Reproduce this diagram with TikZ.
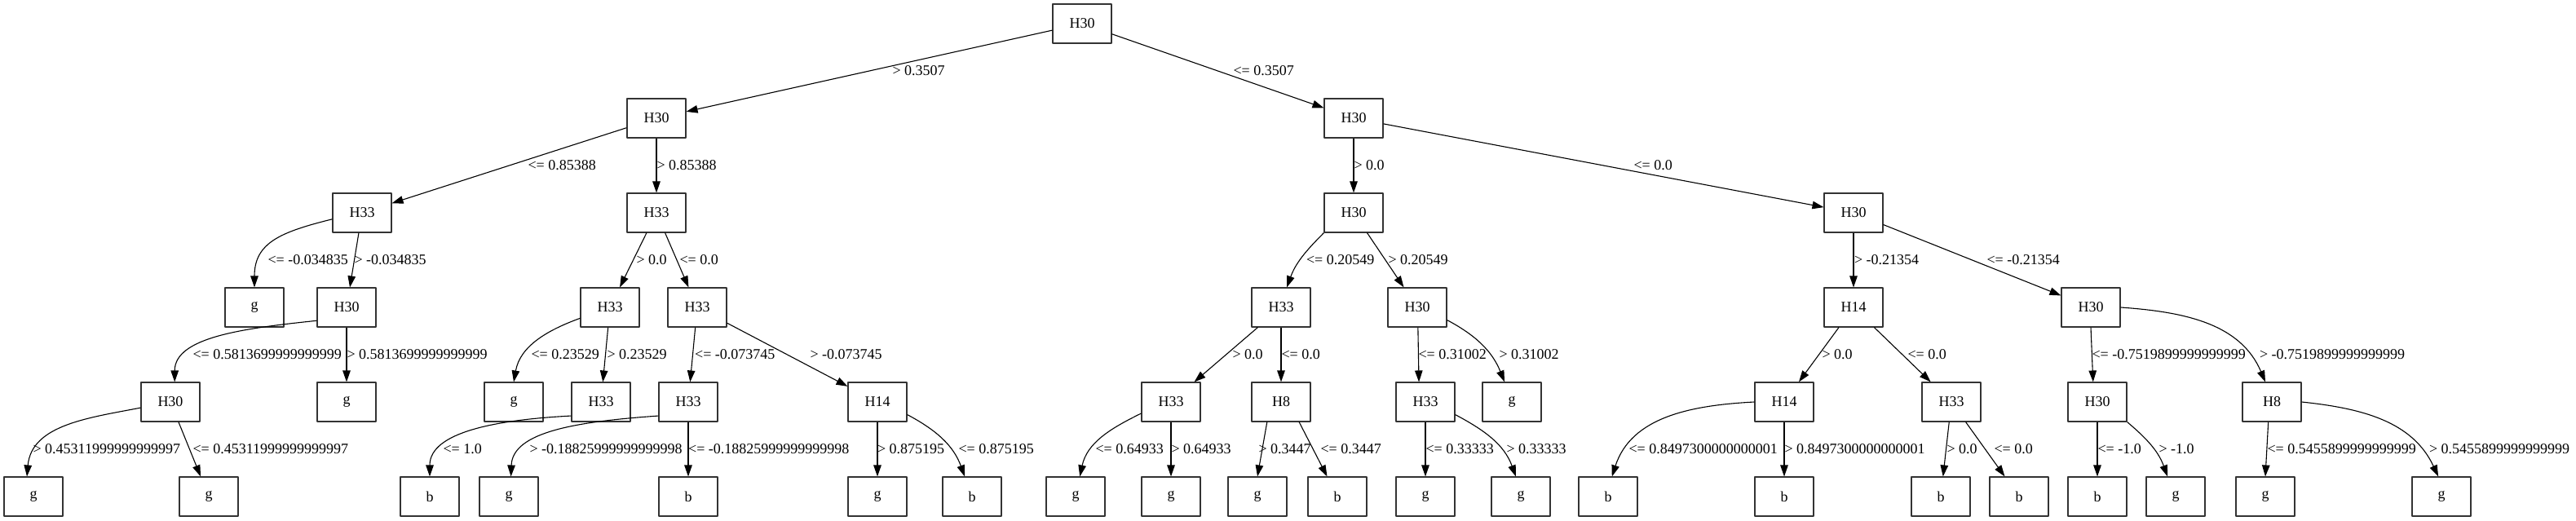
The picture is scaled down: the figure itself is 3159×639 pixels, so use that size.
\documentclass[tikz,border=0pt]{standalone}
\usepackage{fontspec}
\setmainfont{Liberation Serif}
\usetikzlibrary{arrows.meta}
\begin{document}
\begin{tikzpicture}
[x=1pt, y=1pt, font=\fontsize{18}{22}\selectfont, line join=round,
 >={Triangle[length=14pt,width=9.5pt]},
 box/.style={draw=black!80, line width=1.1pt, minimum width=72pt, minimum height=48pt, inner sep=0pt},
 lbl/.style={anchor=west, inner sep=0pt},
 link/.style={->, line width=1.1pt}]
\useasboundingbox (0,0) rectangle (3159,-639);
% nodes: name/x/y/text
\foreach \n/\x/\y/\t in {r/1327/29/H30,
  a/805/145/H30, b/1660/145/H30,
  aa/444/261/H33, ab/805/261/H33, ba/1660/261/H30, bb/2273/261/H30,
  aaa/312/377/g, aab/425/377/H30, aba/748/377/H33, abb/855/377/H33,
  baa/1571/377/H33, bab/1738/377/H30, bba/2273/377/H14, bbb/2564/377/H30,
  aaba/209/493/H30, aabb/425/493/g, abaa/630/493/g, abab/737/493/H33,
  abba/844/493/H33, abbb/1076/493/H14, baaa/1436/493/H33, baab/1571/493/H8,
  baba/1748/493/H33, babb/1854/493/g, bbaa/2188/493/H14, bbab/2393/493/H33,
  bbba/2572/493/H30, bbbb/2786/493/H8,
  aabaa/41/609/g, aabab/256/609/g, ababa/527/609/b, abbaa/624/609/g,
  abbab/844/609/b, abbba/1076/609/g, abbbb/1192/609/b, baaaa/1319/609/g,
  baaab/1436/609/g, baaba/1542/609/g, baabb/1640/609/b, babaa/1748/609/g,
  babab/1865/609/g, bbaaa/1972/609/b, bbaab/2188/609/b, bbaba/2380/609/b,
  bbabb/2476/609/b, bbbaa/2572/609/b, bbbab/2668/609/g, bbbba/2778/609/g,
  bbbbb/2994/609/g}
  \node[box] (\n) at (\x,-\y) {\t};
% straight connectors: from/to/label x/label y/label
\foreach \s/\e/\x/\y/\l in {r/a/1094/86.5/{> 0.3507}, r/b/1512/86.5/{<= 0.3507},
  a/aa/647/203/{<= 0.85388}, a/ab/805/203/{> 0.85388},
  b/ba/1660/203/{> 0.0}, b/bb/2003/203/{<= 0.0},
  aa/aab/434/319/{> -0.034835}, ab/aba/780/319/{> 0.0}, ab/abb/833/319/{<= 0.0},
  ba/bab/1702/319/{> 0.20549}, bb/bba/2273.5/319/{> -0.21354}, bb/bbb/2436/319/{<= -0.21354},
  aab/aabb/425/435/{> 0.5813699999999999}, aba/abab/744/435/{> 0.23529},
  abb/abba/851.6/435/{<= -0.073745}, abb/abbb/993/435/{> -0.073745},
  baa/baaa/1511/435/{> 0.0}, baa/baab/1571/435/{<= 0.0},
  bab.272/baba.108/1739/435/{<= 0.31002},
  bba/bbaa/2234/435/{> 0.0}, bba/bbab/2339/435/{<= 0.0},
  bbb.south/bbba.102/2565/435/{<= -0.7519899999999999},
  aaba/aabab/236/551/{<= 0.45311999999999997},
  abba/abbab/843.6/551/{<= -0.18825999999999998},
  abbb/abbba/1075.5/551/{> 0.875195}, baaa/baaab/1436/551/{> 0.64933},
  baab.235/baaba.north/1543/551/{> 0.3447}, baab.312/baabb.117/1619/551/{<= 0.3447},
  baba/babaa/1748/551/{<= 0.33333}, bbaa/bbaab/2188/551/{> 0.8497300000000001},
  bbab/bbaba/2387/551/{> 0.0}, bbab/bbabb/2445/551/{<= 0.0},
  bbba/bbbaa/2572/551/{<= -1.0}, bbbb.260/bbbba.north/2780/551/{<= 0.5455899999999999}}
  \draw[link] (\s) -- (\e) node[lbl] at (\x,-\y) {\l};
% curved connectors
\draw[link] (aa.192) to[out=194, in=90, out distance=65, in distance=55] (aaa.north)
  node[lbl] at (328,-319) {<= -0.034835};
\draw[link] (ba.south west) to[out=225, in=70] (baa.74)
  node[lbl] at (1601.5,-319) {<= 0.20549};
\draw[link] (aab.204) to[out=186, in=90, out distance=90, in distance=55] (aaba.78)
  node[lbl] at (236,-435) {<= 0.5813699999999999};
\draw[link] (aba.200) to[out=200, in=80] (abaa.north)
  node[lbl] at (651,-435) {<= 0.23529};
\draw[link] (bab.337) to[out=-28, in=112] (babb.110)
  node[lbl] at (1838,-435) {> 0.31002};
\draw[link] (bbb.east) to[out=-4, in=113] (bbbb.108)
  node[lbl] at (2770.5,-435) {> -0.7519899999999999};
\draw[link] (aaba.191) to[out=191, in=85] (aabaa.108)
  node[lbl] at (40,-551) {> 0.45311999999999997};
\draw[link] (abab.205) to[out=183, in=90, out distance=90, in distance=55] (ababa.north)
  node[lbl] at (543,-551) {<= 1.0};
\draw[link] (abba.205) to[out=184, in=88, out distance=100, in distance=55] (abbaa.84)
  node[lbl] at (649,-551) {> -0.18825999999999998};
\draw[link] (abbb.337) to[out=-28, in=110] (abbbb.110)
  node[lbl] at (1175,-551) {<= 0.875195};
\draw[link] (baaa.201) to[out=206, in=78] (baaaa.78)
  node[lbl] at (1343,-551) {<= 0.64933};
\draw[link] (baba.337) to[out=-28, in=110] (babab.104)
  node[lbl] at (1847,-551) {> 0.33333};
\draw[link] (bbaa.west) to[out=183, in=72] (bbaaa.79)
  node[lbl] at (1997,-551) {<= 0.8497300000000001};
\draw[link] (bbba.south east) to[out=-40, in=110] (bbbab.112)
  node[lbl] at (2647,-551) {> -1.0};
\draw[link] (bbbb.east) to[out=-6, in=115] (bbbbb.99)
  node[lbl] at (2978.5,-551) {> 0.5455899999999999};
\end{tikzpicture}
\end{document}
